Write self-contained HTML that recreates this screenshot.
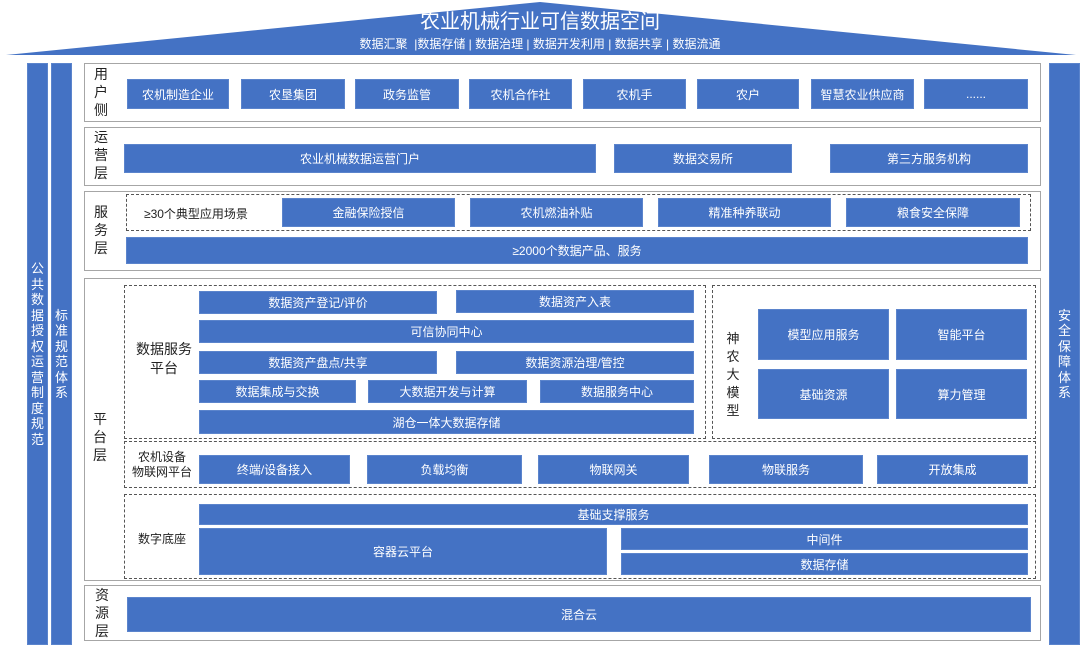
<!DOCTYPE html>
<html><head><meta charset="utf-8"><style>
*{margin:0;padding:0;box-sizing:border-box}
body{width:1080px;height:649px;background:#fff;position:relative;overflow:hidden;font-family:"Liberation Sans","Noto Sans CJK SC",sans-serif}
div{position:absolute}
.b{background:#4472c4;color:#fff;font-size:12px;display:flex;align-items:center;justify-content:center;border:1px solid #5b84cc}
.L{border:1px solid #a6a6a6;background:#fff}
.d{border:1px dashed #555}
.v{font-size:14px;color:#222;line-height:18px;width:16px;text-align:center}
.vw{color:#fff;font-size:13px;line-height:15.5px;text-align:center;display:flex;justify-content:center;padding-top:0}
.t{font-size:12px;color:#222}
</style></head><body>
<svg style="position:absolute;left:0;top:0" width="1080" height="60"><polygon points="6,55 540,2 1076,55" fill="#4472c4"/></svg>
<div style="left:0;width:1080px;top:10px;text-align:center;color:#fff;font-size:20px;line-height:24px">农业机械行业可信数据空间</div>
<div style="left:0;width:1080px;top:36px;text-align:center;color:#fff;font-size:12px;line-height:16px">数据汇聚 &nbsp;|数据存储 | 数据治理 | 数据开发利用 | 数据共享 | 数据流通</div>

<div class="b vw" style="left:27px;top:63px;width:21px;height:582px;align-items:center">公<br>共<br>数<br>据<br>授<br>权<br>运<br>营<br>制<br>度<br>规<br>范</div>
<div class="b vw" style="left:51px;top:63px;width:21px;height:582px;align-items:center;padding-bottom:0">标<br>准<br>规<br>范<br>体<br>系</div>
<div class="b vw" style="left:1049px;top:63px;width:31px;height:582px">安<br>全<br>保<br>障<br>体<br>系</div>

<!-- 用户侧 -->
<div class="L" style="left:84px;top:63px;width:957px;height:59px"></div>
<div class="v" style="left:93px;top:65px">用<br>户<br>侧</div>
<div class="b" style="left:127px;top:79px;width:102px;height:30px">农机制造企业</div>
<div class="b" style="left:241px;top:79px;width:104px;height:30px">农垦集团</div>
<div class="b" style="left:355px;top:79px;width:104px;height:30px">政务监管</div>
<div class="b" style="left:469px;top:79px;width:103px;height:30px">农机合作社</div>
<div class="b" style="left:583px;top:79px;width:103px;height:30px">农机手</div>
<div class="b" style="left:697px;top:79px;width:102px;height:30px">农户</div>
<div class="b" style="left:811px;top:79px;width:103px;height:30px">智慧农业供应商</div>
<div class="b" style="left:924px;top:79px;width:104px;height:30px">......</div>

<!-- 运营层 -->
<div class="L" style="left:84px;top:127px;width:957px;height:59px"></div>
<div class="v" style="left:93px;top:128px">运<br>营<br>层</div>
<div class="b" style="left:124px;top:144px;width:472px;height:29px">农业机械数据运营门户</div>
<div class="b" style="left:614px;top:144px;width:178px;height:29px">数据交易所</div>
<div class="b" style="left:830px;top:144px;width:198px;height:29px">第三方服务机构</div>

<!-- 服务层 -->
<div class="L" style="left:84px;top:191px;width:957px;height:80px"></div>
<div class="v" style="left:93px;top:203px">服<br>务<br>层</div>
<div class="d" style="left:126px;top:194px;width:905px;height:37px"></div>
<div class="t" style="left:144px;top:205px">≥30个典型应用场景</div>
<div class="b" style="left:282px;top:198px;width:173px;height:29px">金融保险授信</div>
<div class="b" style="left:470px;top:198px;width:173px;height:29px">农机燃油补贴</div>
<div class="b" style="left:658px;top:198px;width:173px;height:29px">精准种养联动</div>
<div class="b" style="left:846px;top:198px;width:174px;height:29px">粮食安全保障</div>
<div class="b" style="left:126px;top:237px;width:902px;height:27px">≥2000个数据产品、服务</div>

<!-- 平台层 -->
<div class="L" style="left:84px;top:278px;width:957px;height:303px"></div>
<div class="v" style="left:92px;top:410px">平<br>台<br>层</div>
<div class="d" style="left:124px;top:285px;width:582px;height:154px"></div>
<div style="left:130px;top:340px;font-size:14px;line-height:19px;color:#222;text-align:center;width:68px">数据服务<br>平台</div>
<div class="b" style="left:199px;top:291px;width:238px;height:23px">数据资产登记/评价</div>
<div class="b" style="left:456px;top:290px;width:238px;height:23px">数据资产入表</div>
<div class="b" style="left:199px;top:320px;width:495px;height:23px">可信协同中心</div>
<div class="b" style="left:199px;top:351px;width:238px;height:23px">数据资产盘点/共享</div>
<div class="b" style="left:456px;top:351px;width:238px;height:23px">数据资源治理/管控</div>
<div class="b" style="left:199px;top:380px;width:157px;height:23px">数据集成与交换</div>
<div class="b" style="left:368px;top:380px;width:159px;height:23px">大数据开发与计算</div>
<div class="b" style="left:540px;top:380px;width:154px;height:23px">数据服务中心</div>
<div class="b" style="left:199px;top:410px;width:495px;height:24px">湖仓一体大数据存储</div>

<div class="d" style="left:712px;top:285px;width:324px;height:154px"></div>
<div class="v" style="left:725px;top:330px;font-size:13px">神<br>农<br>大<br>模<br>型</div>
<div class="b" style="left:758px;top:309px;width:131px;height:51px">模型应用服务</div>
<div class="b" style="left:896px;top:309px;width:131px;height:51px">智能平台</div>
<div class="b" style="left:758px;top:369px;width:131px;height:50px">基础资源</div>
<div class="b" style="left:896px;top:369px;width:131px;height:50px">算力管理</div>

<div class="d" style="left:124px;top:441px;width:912px;height:47px"></div>
<div style="left:128px;top:450px;font-size:12px;line-height:15px;color:#222;text-align:center;width:68px">农机设备<br>物联网平台</div>
<div class="b" style="left:199px;top:455px;width:151px;height:29px">终端/设备接入</div>
<div class="b" style="left:367px;top:455px;width:155px;height:29px">负载均衡</div>
<div class="b" style="left:538px;top:455px;width:151px;height:29px">物联网关</div>
<div class="b" style="left:709px;top:455px;width:154px;height:29px">物联服务</div>
<div class="b" style="left:877px;top:455px;width:151px;height:29px">开放集成</div>

<div class="d" style="left:124px;top:494px;width:912px;height:85px"></div>
<div class="t" style="left:138px;top:530px">数字底座</div>
<div class="b" style="left:199px;top:504px;width:829px;height:21px">基础支撑服务</div>
<div class="b" style="left:199px;top:528px;width:408px;height:47px">容器云平台</div>
<div class="b" style="left:621px;top:528px;width:407px;height:22px">中间件</div>
<div class="b" style="left:621px;top:553px;width:407px;height:22px">数据存储</div>

<!-- 资源层 -->
<div class="L" style="left:84px;top:585px;width:957px;height:56px"></div>
<div class="v" style="left:94px;top:586px">资<br>源<br>层</div>
<div class="b" style="left:127px;top:597px;width:904px;height:35px">混合云</div>
</body></html>
